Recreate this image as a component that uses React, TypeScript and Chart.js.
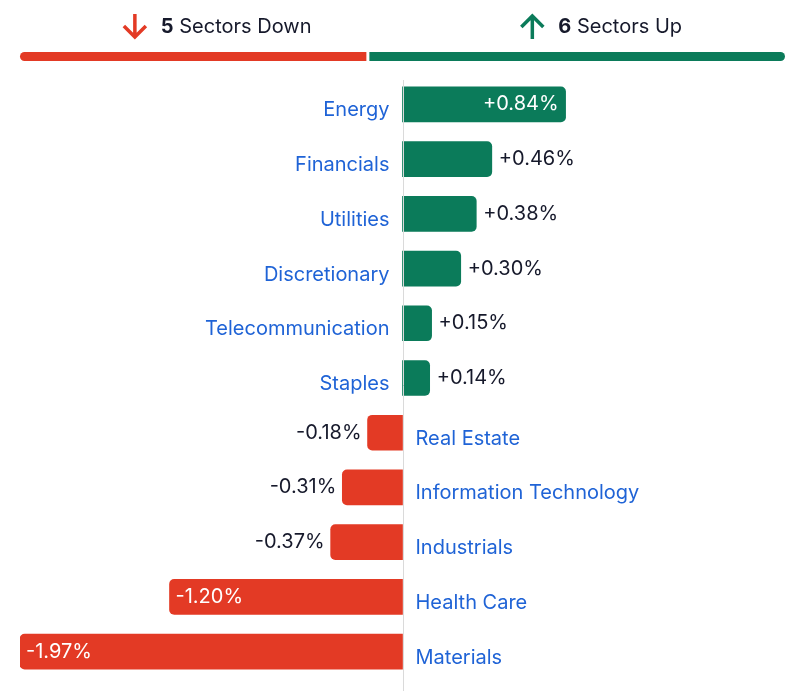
import React, { useEffect, useRef } from "react";
import { Chart, registerables } from "chart.js";

Chart.register(...registerables);

// Sector performance, % change
const sectors = [
  "Energy",
  "Financials",
  "Utilities",
  "Discretionary",
  "Telecommunication",
  "Staples",
  "Real Estate",
  "Information Technology",
  "Industrials",
  "Health Care",
  "Materials",
];
const changes = [0.84, 0.46, 0.38, 0.3, 0.15, 0.14, -0.18, -0.31, -0.37, -1.2, -1.97];

const UP = "#0B7B5A";
const DOWN = "#E33A25";
const LABEL_BLUE = "#1F63D6";
const TEXT_DARK = "#16192B";
const FONT = "Inter, 'Noto Sans', sans-serif";

const fmt = (v: number) => (v > 0 ? "+" : "") + v.toFixed(2) + "%";

const sectorPlugin = {
  id: "sectorDecor",
  afterDatasetsDraw(chart: any) {
    const { ctx, chartArea } = chart;
    const xScale = chart.scales.x;
    const meta = chart.getDatasetMeta(0);
    const zeroX = xScale.getPixelForValue(0);
    const values: number[] = chart.data.datasets[0].data;

    ctx.save();
    // zero line
    ctx.strokeStyle = "#DADADA";
    ctx.lineWidth = 1;
    ctx.beginPath();
    ctx.moveTo(Math.round(zeroX) + 0.5, 80);
    ctx.lineTo(Math.round(zeroX) + 0.5, chart.height);
    ctx.stroke();

    ctx.font = `20px ${FONT}`;
    ctx.textBaseline = "middle";
    meta.data.forEach((bar: any, i: number) => {
      const v = values[i];
      const y = bar.y;
      const label = chart.data.labels[i];
      // category label on the opposite side of the zero line
      ctx.fillStyle = LABEL_BLUE;
      if (v >= 0) {
        ctx.textAlign = "right";
        ctx.fillText(label, zeroX - 13, y + 6);
      } else {
        ctx.textAlign = "left";
        ctx.fillText(label, zeroX + 13, y + 6);
      }
      // value label: inside long bars, outside short ones
      const text = fmt(v);
      const tw = ctx.measureText(text).width;
      const len = Math.abs(bar.x - zeroX);
      const inside = len > tw * 1.8;
      if (v >= 0) {
        if (inside) {
          ctx.fillStyle = "#FFFFFF";
          ctx.textAlign = "right";
          ctx.fillText(text, bar.x - 7, y);
        } else {
          ctx.fillStyle = TEXT_DARK;
          ctx.textAlign = "left";
          ctx.fillText(text, bar.x + 7, y);
        }
      } else {
        if (inside) {
          ctx.fillStyle = "#FFFFFF";
          ctx.textAlign = "left";
          ctx.fillText(text, bar.x + 6, y);
        } else {
          ctx.fillStyle = TEXT_DARK;
          ctx.textAlign = "right";
          ctx.fillText(text, bar.x - 6, y);
        }
      }
    });

    // header: counts and breadth bar
    const down = values.filter((v) => v < 0).length;
    const up = values.filter((v) => v > 0).length;
    const left = chartArea.left;
    const right = chartArea.right;
    const gap = 3;
    const total = right - left - gap;
    const split = left + (total * down) / (down + up);
    const barY = 52;
    const barH = 9;
    ctx.fillStyle = DOWN;
    ctx.beginPath();
    ctx.roundRect(left, barY, split - left, barH, [4.5, 0, 0, 4.5]);
    ctx.fill();
    ctx.fillStyle = UP;
    ctx.beginPath();
    ctx.roundRect(split + gap, barY, right - split - gap, barH, [0, 4.5, 4.5, 0]);
    ctx.fill();

    const drawHeader = (cx: number, count: number, word: string, color: string, dir: number) => {
      ctx.font = `bold 20px ${FONT}`;
      const numW = ctx.measureText(String(count)).width;
      ctx.font = `20px ${FONT}`;
      const wordW = ctx.measureText(" " + word).width;
      const arrowW = 24;
      const spacing = 14;
      const totalW = arrowW + spacing + numW + wordW;
      let x = cx - totalW / 2 + 24;
      const ty = 27;
      // arrow
      const ax = x + arrowW / 2;
      ctx.strokeStyle = color;
      ctx.lineWidth = 3.5;
      ctx.lineCap = "butt";
      ctx.lineJoin = "miter";
      ctx.beginPath();
      if (dir < 0) {
        ctx.moveTo(ax, 14);
        ctx.lineTo(ax, 36);
        ctx.moveTo(ax - 11, 26);
        ctx.lineTo(ax, 37);
        ctx.lineTo(ax + 11, 26);
      } else {
        ctx.moveTo(ax, 39);
        ctx.lineTo(ax, 17);
        ctx.moveTo(ax - 11, 27);
        ctx.lineTo(ax, 16);
        ctx.lineTo(ax + 11, 27);
      }
      ctx.stroke();
      x += arrowW + spacing;
      ctx.fillStyle = TEXT_DARK;
      ctx.textAlign = "left";
      ctx.textBaseline = "middle";
      ctx.font = `bold 20px ${FONT}`;
      ctx.fillText(String(count), x, ty);
      x += numW;
      ctx.font = `20px ${FONT}`;
      ctx.fillText(" " + word, x, ty);
    };
    drawHeader((left + split) / 2, down, "Sectors Down", DOWN, -1);
    drawHeader((split + gap + right) / 2, up, "Sectors Up", UP, 1);
    ctx.restore();
  },
};

export default function App() {
  const ref = useRef<HTMLCanvasElement>(null);
  useEffect(() => {
    if (!ref.current) return;
    const chart = new Chart(ref.current, {
      type: "bar",
      data: {
        labels: sectors,
        datasets: [
          {
            data: changes,
            backgroundColor: changes.map((v) => (v >= 0 ? UP : DOWN)),
            borderRadius: 5,
            borderSkipped: "start",
            barThickness: 35,
          },
        ],
      },
      options: {
        indexAxis: "y",
        responsive: false,
        animation: false,
        maintainAspectRatio: false,
        layout: { padding: { left: 20, right: 17, top: 77, bottom: 12 } },
        plugins: { legend: { display: false }, tooltip: { enabled: false } },
        scales: {
          x: { display: false, min: -1.97, max: 1.97 },
          y: { display: false },
        },
      },
      plugins: [sectorPlugin],
    });
    return () => chart.destroy();
  }, []);
  return (
    <div style={{ position: "fixed", left: 0, top: 0, width: 802, height: 691, background: "#fff" }}>
      <canvas ref={ref} width={802} height={691} />
    </div>
  );
}
